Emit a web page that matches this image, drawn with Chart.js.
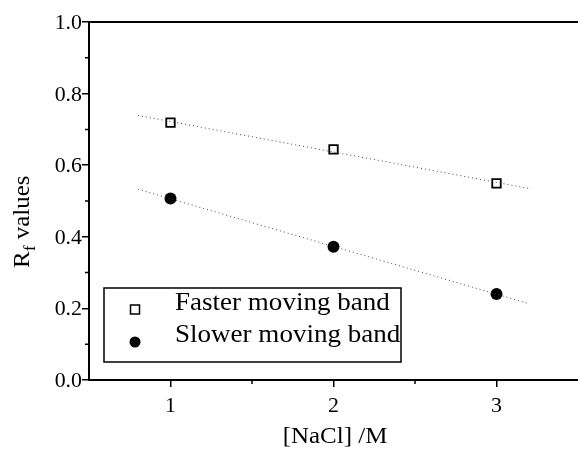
<!DOCTYPE html>
<html>
<head>
<meta charset="utf-8">
<script src="https://cdn.jsdelivr.net/npm/chart.js@4/dist/chart.umd.min.js"></script>
<style>
    html, body { margin: 0; background: #fff; }
    #wrap { width: 578px; height: 450px; }
</style>
</head>
<body>
<div id="wrap"><canvas id="myChart"></canvas></div>
<script>
// values
const nacl = [1, 2, 3];
const fasterBand = [0.719, 0.644, 0.549];
const slowerBand = [0.507, 0.372, 0.240];
const fitRange = [0.8, 3.2];
const fasterFit = [0.739, 0.535];
const slowerFit = [0.533, 0.213];
const xTicks = [1, 2, 3];
const xMinorTicks = [1.5, 2.5];
const yTicks = [0.0, 0.2, 0.4, 0.6, 0.8, 1.0];
const yMinorTicks = [0.1, 0.3, 0.5, 0.7, 0.9];
const legendLabels = ['Faster moving band', 'Slower moving band'];

const FONT = '"Liberation Serif", "Times New Roman", serif';
const INK = '#000';
const STRETCH = 1.04;

const toPoints = (xs, ys) => xs.map((x, i) => ({ x: x, y: ys[i] }));

// scanned text is a little wide, draw it slightly stretched
function stretchedText(ctx, text, x, y, size, align) {
    ctx.save();
    ctx.font = size + 'px ' + FONT;
    ctx.fillStyle = INK;
    ctx.textBaseline = 'alphabetic';
    const w = ctx.measureText(text).width * STRETCH;
    let left = x;
    if (align === 'center') left = x - w / 2;
    if (align === 'right') left = x - w;
    ctx.translate(left, y);
    ctx.scale(STRETCH, 1);
    ctx.textAlign = 'left';
    ctx.fillText(text, 0, 0);
    ctx.restore();
}

const decorations = {
    id: 'decorations',
    afterDraw(chart) {
        const ctx = chart.ctx;
        const xs = chart.scales.x;
        const ys = chart.scales.y;
        const area = chart.chartArea;

        ctx.save();
        ctx.strokeStyle = INK;
        ctx.lineWidth = 2;
        // top frame line
        ctx.beginPath();
        ctx.moveTo(area.left, area.top);
        ctx.lineTo(area.right, area.top);
        ctx.stroke();

        // minor ticks
        ctx.lineWidth = 1.5;
        ctx.beginPath();
        yMinorTicks.forEach(v => {
            const py = ys.getPixelForValue(v);
            ctx.moveTo(area.left - 4, py);
            ctx.lineTo(area.left, py);
        });
        xMinorTicks.forEach(v => {
            const px = xs.getPixelForValue(v);
            ctx.moveTo(px, area.bottom);
            ctx.lineTo(px, area.bottom + 4);
        });
        ctx.stroke();
        ctx.restore();

        // tick labels
        yTicks.forEach(v => {
            stretchedText(ctx, v.toFixed(1), area.left - 7, ys.getPixelForValue(v) + 7, 21, 'right');
        });
        xTicks.forEach(v => {
            stretchedText(ctx, String(v), xs.getPixelForValue(v), 412, 21, 'center');
        });

        // axis titles
        stretchedText(ctx, '[NaCl] /M', 335, 443, 24, 'center');

        ctx.save();
        ctx.translate(29, 268);
        ctx.rotate(-Math.PI / 2);
        ctx.scale(STRETCH, 1);
        ctx.fillStyle = INK;
        ctx.textBaseline = 'alphabetic';
        ctx.font = '24px ' + FONT;
        ctx.fillText('R', 0, 0);
        let off = ctx.measureText('R').width;
        ctx.font = '17px ' + FONT;
        ctx.fillText('f', off, 6);
        off += ctx.measureText('f').width;
        ctx.font = '24px ' + FONT;
        ctx.fillText(' values', off, 0);
        ctx.restore();

        // legend box
        ctx.save();
        ctx.strokeStyle = INK;
        ctx.lineWidth = 1.5;
        ctx.strokeRect(104, 288, 297, 74);
        ctx.strokeRect(130.5, 305, 9, 9);
        ctx.fillStyle = INK;
        ctx.beginPath();
        ctx.arc(135, 342, 5.5, 0, Math.PI * 2);
        ctx.fill();
        ctx.restore();
        stretchedText(ctx, legendLabels[0], 175, 310, 26, 'left');
        stretchedText(ctx, legendLabels[1], 175, 342, 26, 'left');
    }
};

new Chart(document.getElementById('myChart').getContext('2d'), {
    type: 'scatter',
    data: {
        datasets: [
            {
                label: 'fit faster',
                type: 'line',
                data: toPoints(fitRange, fasterFit),
                borderColor: '#444',
                borderWidth: 1,
                borderDash: [1, 3],
                pointRadius: 0,
                fill: false,
            },
            {
                label: 'fit slower',
                type: 'line',
                data: toPoints(fitRange, slowerFit),
                borderColor: '#444',
                borderWidth: 1,
                borderDash: [1, 3],
                pointRadius: 0,
                fill: false,
            },
            {
                label: legendLabels[0],
                data: toPoints(nacl, fasterBand),
                pointStyle: 'rect',
                pointRadius: 6,
                pointBorderWidth: 1.8,
                pointBorderColor: INK,
                pointBackgroundColor: '#fff',
            },
            {
                label: legendLabels[1],
                data: toPoints(nacl, slowerBand),
                pointStyle: 'circle',
                pointRadius: 6,
                pointBorderWidth: 0,
                pointBackgroundColor: INK,
            },
        ]
    },
    options: {
        responsive: true,
        maintainAspectRatio: false,
        animation: false,
        events: [],
        layout: { autoPadding: false, padding: { top: 22, right: 0, left: 0, bottom: 0 } },
        plugins: {
            legend: { display: false },
            tooltip: { enabled: false },
        },
        scales: {
            x: {
                type: 'linear',
                min: 0.5,
                max: 3.5,
                afterBuildTicks: scale => { scale.ticks = xTicks.map(v => ({ value: v })); },
                afterFit: scale => {
                    scale.height = 70;
                    scale.paddingLeft = 0;
                    scale.paddingRight = 0;
                },
                ticks: { display: false },
                grid: { drawOnChartArea: false, tickLength: 7, color: INK, lineWidth: 1.5 },
                border: { color: INK, width: 2 },
            },
            y: {
                type: 'linear',
                min: 0,
                max: 1,
                afterBuildTicks: scale => { scale.ticks = yTicks.map(v => ({ value: v })); },
                afterFit: scale => {
                    scale.width = 89;
                    scale.paddingTop = 0;
                    scale.paddingBottom = 0;
                },
                ticks: { display: false },
                grid: { drawOnChartArea: false, tickLength: 7, color: INK, lineWidth: 1.5 },
                border: { color: INK, width: 2 },
            },
        },
    },
    plugins: [decorations],
});
</script>
</body>
</html>
